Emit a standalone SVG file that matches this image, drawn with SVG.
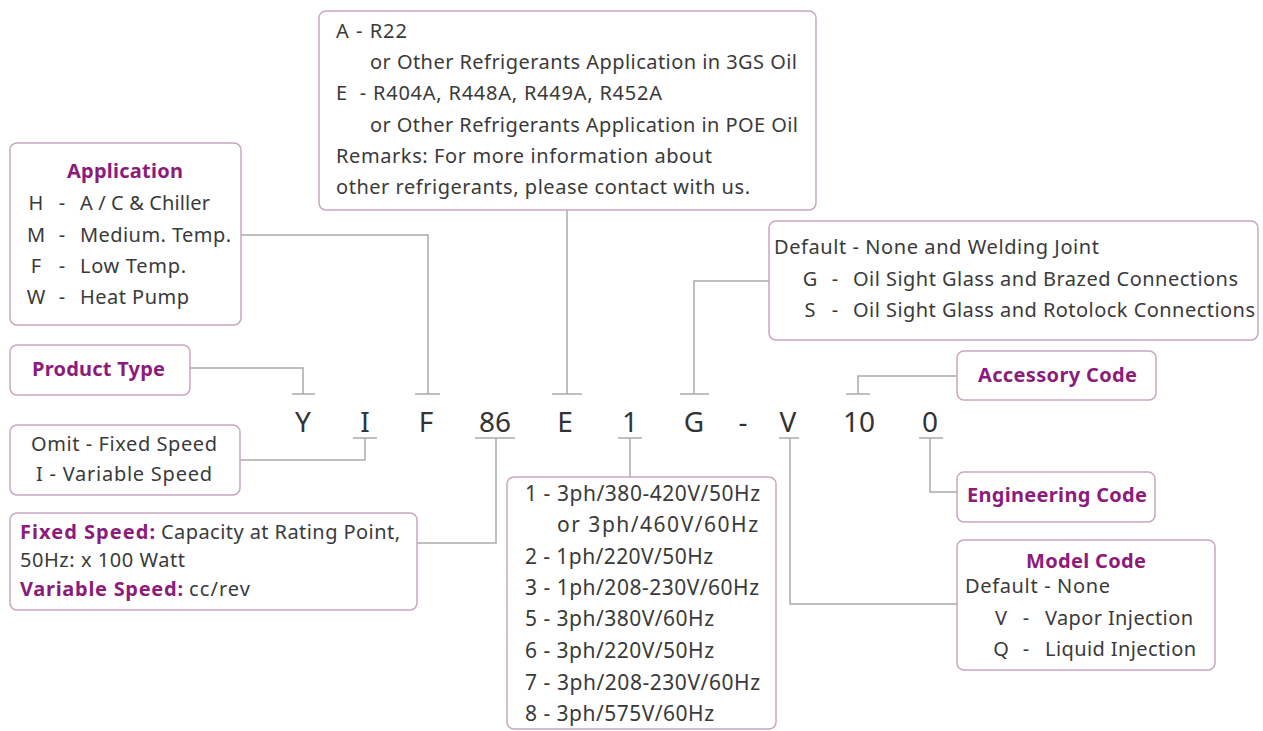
<svg xmlns="http://www.w3.org/2000/svg" width="1263" height="731" viewBox="0 0 1263 731">
<style>
.box{fill:#fff;stroke:#c9a6c0;stroke-width:1.5}
.t{font-family:"Noto Sans","Open Sans",sans-serif;font-size:20px;fill:#3a3a3a}
.v{font-size:21px}
.h{font-family:"Noto Sans","Open Sans",sans-serif;font-size:20px;font-weight:bold;fill:#8c1c7c}
.code{font-family:"Noto Sans","Open Sans",sans-serif;font-size:28px;fill:#333;text-anchor:middle}
.c{fill:none;stroke:#aaa;stroke-width:1.5}
</style>
<rect width="1263" height="731" fill="#fff"/>
<g id="connectors">
<path class="c" d="M241,235 H428 V394 M415,394 H440"/>
<path class="c" d="M567,210 V394 M552,394 H582"/>
<path class="c" d="M769,281 H694 V394 M680,394 H709"/>
<path class="c" d="M190,368 H303 V394 M292,394 H315"/>
<path class="c" d="M240,460 H365 V438 M353,438 H377"/>
<path class="c" d="M417,543 H496 V438 M475,438 H515"/>
<path class="c" d="M630,477 V438 M618,438 H642"/>
<path class="c" d="M957,604 H790 V438 M779,438 H799"/>
<path class="c" d="M957,492 H930 V438 M919,438 H943"/>
<path class="c" d="M957,376 H858 V394 M846,394 H870"/>
</g>
<g id="code">
<text class="code" x="303" y="432">Y</text>
<text class="code" x="365" y="432">I</text>
<text class="code" x="426" y="432">F</text>
<text class="code" x="495" y="432">86</text>
<text class="code" x="565" y="432">E</text>
<text class="code" x="630" y="432">1</text>
<text class="code" x="694" y="432">G</text>
<text class="code" x="743" y="432">-</text>
<text class="code" x="788" y="432">V</text>
<text class="code" x="859" y="432">10</text>
<text class="code" x="930" y="432">0</text>
</g>
<g id="application">
<rect class="box" x="10" y="143" width="231" height="182" rx="7"/>
<text class="h" x="67" y="178" textLength="116">Application</text>
<text class="t" x="36" y="210" text-anchor="middle">H</text><text class="t" x="62" y="210" text-anchor="middle">-</text><text class="t" x="80" y="210" textLength="130">A / C &amp; Chiller</text>
<text class="t" x="36" y="242" text-anchor="middle">M</text><text class="t" x="62" y="242" text-anchor="middle">-</text><text class="t" x="80" y="242" textLength="151">Medium. Temp.</text>
<text class="t" x="36" y="273" text-anchor="middle">F</text><text class="t" x="62" y="273" text-anchor="middle">-</text><text class="t" x="80" y="273" textLength="106">Low Temp.</text>
<text class="t" x="36" y="304" text-anchor="middle">W</text><text class="t" x="62" y="304" text-anchor="middle">-</text><text class="t" x="80" y="304" textLength="109">Heat Pump</text>
</g>
<g id="product-type">
<rect class="box" x="10" y="345" width="180" height="50" rx="7"/>
<text class="h" x="32" y="376" textLength="133">Product Type</text>
</g>
<g id="speed">
<rect class="box" x="10" y="425" width="230" height="70" rx="7"/>
<text class="t" x="31" y="451" textLength="186">Omit - Fixed Speed</text>
<text class="t" x="36" y="481" textLength="176">I - Variable Speed</text>
</g>
<g id="capacity">
<rect class="box" x="10" y="513" width="407" height="97" rx="7"/>
<text class="h" x="20" y="539" textLength="135">Fixed Speed:</text>
<text class="t" x="161" y="539" textLength="239">Capacity at Rating Point,</text>
<text class="t" x="20" y="567" textLength="165">50Hz: x 100 Watt</text>
<text class="h" x="20" y="596" textLength="163">Variable Speed:</text>
<text class="t" x="189" y="596" textLength="61">cc/rev</text>
</g>
<g id="refrigerant">
<rect class="box" x="319" y="11" width="497" height="199" rx="7"/>
<text class="t" x="336" y="38" textLength="71">A - R22</text>
<text class="t" x="370" y="69" textLength="427">or Other Refrigerants Application in 3GS Oil</text>
<text class="t" x="336" y="100" textLength="326" xml:space="preserve">E  - R404A, R448A, R449A, R452A</text>
<text class="t" x="370" y="132" textLength="428">or Other Refrigerants Application in POE Oil</text>
<text class="t" x="336" y="163" textLength="376">Remarks: For more information about</text>
<text class="t" x="336" y="194" textLength="414">other refrigerants, please contact with us.</text>
</g>
<g id="connections">
<rect class="box" x="769" y="221" width="489" height="119" rx="7"/>
<text class="t" x="774" y="254" textLength="325">Default - None and Welding Joint</text>
<text class="t" x="810" y="286" text-anchor="middle">G</text><text class="t" x="835" y="286" text-anchor="middle">-</text><text class="t" x="853" y="286" textLength="385">Oil Sight Glass and Brazed Connections</text>
<text class="t" x="810" y="317" text-anchor="middle">S</text><text class="t" x="835" y="317" text-anchor="middle">-</text><text class="t" x="853" y="317" textLength="402">Oil Sight Glass and Rotolock Connections</text>
</g>
<g id="accessory-code">
<rect class="box" x="957" y="351" width="199" height="49" rx="7"/>
<text class="h" x="978" y="382" textLength="159">Accessory Code</text>
</g>
<g id="engineering-code">
<rect class="box" x="957" y="472" width="198" height="50" rx="7"/>
<text class="h" x="967" y="502" textLength="180">Engineering Code</text>
</g>
<g id="model-code">
<rect class="box" x="957" y="540" width="258" height="130" rx="7"/>
<text class="h" x="1026" y="568" textLength="120">Model Code</text>
<text class="t" x="965" y="593" textLength="145">Default - None</text>
<text class="t" x="1001" y="625" text-anchor="middle">V</text><text class="t" x="1026" y="625" text-anchor="middle">-</text><text class="t" x="1045" y="625" textLength="148">Vapor Injection</text>
<text class="t" x="1001" y="656" text-anchor="middle">Q</text><text class="t" x="1026" y="656" text-anchor="middle">-</text><text class="t" x="1045" y="656" textLength="151">Liquid Injection</text>
</g>
<g id="voltage">
<rect class="box" x="507" y="477" width="269" height="252" rx="7"/>
<text class="t v" x="525" y="501" textLength="235">1 - 3ph/380-420V/50Hz</text>
<text class="t v" x="557" y="532" textLength="201">or 3ph/460V/60Hz</text>
<text class="t v" x="525" y="564" textLength="188">2 - 1ph/220V/50Hz</text>
<text class="t v" x="525" y="595" textLength="234">3 - 1ph/208-230V/60Hz</text>
<text class="t v" x="525" y="626" textLength="189">5 - 3ph/380V/60Hz</text>
<text class="t v" x="525" y="658" textLength="189">6 - 3ph/220V/50Hz</text>
<text class="t v" x="525" y="690" textLength="235">7 - 3ph/208-230V/60Hz</text>
<text class="t v" x="525" y="721" textLength="189">8 - 3ph/575V/60Hz</text>
</g>
</svg>
